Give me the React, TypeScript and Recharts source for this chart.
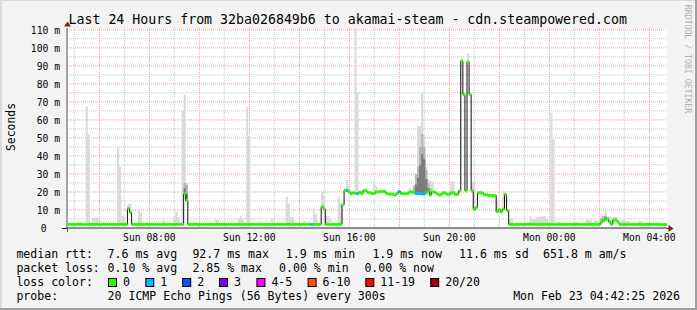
import React from 'react';
import { ComposedChart, Area, Line, Scatter, XAxis, YAxis, CartesianGrid } from 'recharts';

const MONO = '"DejaVu Sans Mono", "Liberation Mono", monospace';

// ---------- axis ticks (minutes since window start, Sun 04:42:25) ----------
const xTickMinutes = [197.58, 437.58, 677.58, 917.58, 1157.58, 1397.58];
const xTickLabels = ['Sun 08:00', 'Sun 12:00', 'Sun 16:00', 'Sun 20:00', 'Mon 00:00', 'Mon 04:00'];
const yTickValues = [0, 10, 20, 30, 40, 50, 60, 70, 80, 90, 100, 110];
const yTickLabels = ['0', '10 m', '20 m', '30 m', '40 m', '50 m', '60 m', '70 m', '80 m', '90 m', '100 m', '110 m'];

// ---------- 5-minute samples (ms), one row per hour ----------
const median = [
  2.0, 2.0, 2.0, 2.0, 2.0, 2.0, 2.0, 2.0, 2.0, 2.0, 2.0, 2.0,
  2.0, 2.0, 2.0, 2.0, 2.0, 2.0, 2.0, 2.0, 2.0, 2.0, 2.0, 2.0,
  2.0, 2.0, 2.0, 2.0, 2.0, 10.9, 8.7, 2.0, 2.0, 2.0, 2.0, 2.0,
  2.0, 2.0, 2.0, 2.0, 2.0, 2.0, 2.0, 2.0, 2.0, 2.0, 2.0, 2.0,
  2.0, 2.0, 2.0, 2.0, 2.0, 2.0, 2.0, 2.0, 19.0, 15.3, 2.0, 2.0,
  2.0, 2.0, 2.0, 2.0, 2.0, 2.0, 2.0, 2.0, 2.0, 2.0, 2.0, 2.0,
  2.0, 2.0, 2.0, 2.0, 2.0, 2.0, 2.0, 2.0, 2.0, 2.0, 2.0, 2.0,
  2.0, 2.0, 2.0, 2.0, 2.0, 2.0, 2.0, 2.0, 2.0, 2.0, 2.0, 2.0,
  2.0, 2.0, 2.0, 2.0, 2.0, 2.0, 2.0, 2.0, 2.0, 2.0, 2.0, 2.0,
  2.0, 2.0, 2.0, 2.0, 2.0, 2.0, 2.0, 2.0, 2.0, 2.0, 2.0, 2.0,
  2.0, 2.0, 11.8, 10.5, 2.0, 2.0, 2.0, 2.0, 2.0, 2.0, 2.0, 2.0,
  12.9, 20.9, 20.8, 20.0, 19.0, 19.6, 19.3, 19.0, 19.7, 19.0, 20.6, 20.9,
  19.6, 19.6, 19.2, 19.2, 20.0, 20.0, 20.3, 20.3, 20.3, 19.2, 18.8, 18.8,
  18.8, 18.2, 19.2, 20.3, 19.2, 19.1, 19.1, 19.1, 20.0, 20.0, 19.5, 19.2,
  19.2, 19.2, 18.9, 18.9, 19.5, 20.3, 18.3, 20.0, 20.0, 19.2, 18.4, 18.4,
  19.5, 19.5, 18.7, 18.7, 19.5, 19.5, 18.7, 18.7, 20.6, 92.7, 74.0, 20.6,
  92.2, 74.0, 20.6, 10.3, 11.3, 19.5, 19.5, 19.4, 18.4, 18.4, 18.0, 18.0,
  18.0, 18.0, 9.0, 10.1, 9.0, 10.4, 18.5, 9.6, 2.0, 2.0, 2.0, 2.0,
  2.0, 2.0, 2.0, 2.0, 2.0, 2.0, 2.0, 2.0, 2.0, 2.0, 2.0, 2.0,
  2.0, 2.0, 2.0, 2.0, 2.0, 2.0, 2.0, 2.0, 2.0, 2.0, 2.0, 2.0,
  2.0, 2.0, 2.0, 2.0, 2.0, 2.0, 2.0, 2.0, 2.0, 2.0, 2.0, 2.0,
  2.0, 2.0, 2.0, 2.0, 3.2, 4.0, 4.6, 5.0, 3.4, 2.0, 4.4, 4.4,
  3.4, 2.0, 2.0, 2.0, 2.0, 2.0, 2.0, 2.0, 2.0, 2.0, 2.0, 2.0,
  2.0, 2.0, 2.0, 2.0, 2.0, 2.0, 2.0, 2.0, 1.9, 1.9, 1.9, 1.9,
];

const smokeMax = [
  2.5, 2.5, 2.5, 2.5, 2.5, 3.5, 3.5, 2.8, 2.8, 67.4, 51.7, 3.0,
  5.5, 6.0, 6.0, 5.0, 2.5, 3.0, 2.5, 2.5, 2.5, 2.5, 2.5, 2.5,
  44.7, 34.0, 6.8, 6.8, 3.0, 13.5, 13.5, 2.5, 2.5, 2.5, 9.8, 8.3,
  2.5, 2.5, 3.5, 2.5, 2.5, 2.5, 2.5, 2.5, 2.5, 3.5, 4.5, 2.5,
  2.5, 2.5, 2.5, 6.5, 9.2, 6.0, 2.5, 65.0, 74.0, 25.0, 2.5, 2.5,
  3.0, 3.0, 3.0, 2.5, 2.5, 2.5, 2.5, 2.5, 2.5, 2.5, 2.5, 4.5,
  4.5, 2.5, 2.5, 2.5, 2.5, 2.5, 2.5, 2.5, 2.5, 2.5, 5.0, 6.8,
  5.0, 2.5, 67.0, 51.0, 2.5, 2.5, 2.5, 2.5, 3.0, 3.0, 2.5, 2.5,
  2.5, 2.5, 5.0, 2.5, 2.5, 2.5, 2.5, 2.5, 2.5, 17.4, 13.5, 6.0,
  6.0, 2.5, 2.5, 2.5, 2.5, 3.7, 3.7, 3.0, 3.7, 2.5, 10.8, 7.9,
  2.5, 2.5, 20.0, 17.8, 6.8, 6.8, 5.0, 2.5, 2.5, 2.5, 17.5, 13.5,
  12.9, 21.5, 26.8, 23.5, 19.5, 20.0, 111.0, 75.0, 21.0, 21.0, 21.5, 21.3,
  20.0, 20.0, 19.6, 24.6, 23.0, 20.3, 20.6, 20.6, 20.6, 19.6, 19.2, 19.2,
  19.2, 18.6, 19.6, 20.6, 19.6, 19.5, 19.5, 19.5, 22.0, 20.3, 24.0, 30.0,
  56.6, 56.6, 75.0, 52.0, 34.0, 27.0, 26.0, 26.0, 20.3, 19.6, 18.8, 18.8,
  19.9, 19.9, 19.1, 19.1, 26.0, 26.0, 19.1, 19.1, 21.0, 94.0, 75.0, 21.0,
  97.0, 75.0, 25.6, 25.6, 11.6, 20.5, 20.5, 19.8, 18.8, 18.8, 18.4, 18.4,
  18.4, 18.4, 16.3, 10.4, 9.3, 20.0, 20.0, 9.9, 5.2, 5.2, 2.5, 2.5,
  2.5, 2.5, 2.5, 2.5, 3.3, 3.3, 6.5, 4.7, 4.7, 6.3, 6.3, 6.3,
  6.5, 6.5, 5.0, 2.5, 63.8, 49.4, 2.5, 3.3, 3.3, 2.5, 2.5, 2.5,
  2.5, 2.5, 2.5, 3.3, 3.3, 2.5, 2.5, 2.5, 2.5, 4.7, 4.7, 4.4,
  2.5, 4.3, 4.3, 2.5, 6.5, 6.5, 9.2, 6.5, 6.5, 6.1, 6.1, 6.1,
  4.0, 2.5, 4.4, 4.4, 3.9, 3.9, 2.5, 2.5, 2.5, 2.5, 3.9, 3.9,
  2.5, 2.5, 3.3, 3.3, 2.5, 2.5, 2.5, 2.5, 2.5, 2.5, 2.5, 2.5,
];

// denser smoke (closer pings) where visible
const smokeMidIdx = [56, 57, 166, 167, 168, 169, 170, 171, 172, 173, 174, 256, 257, 258, 259];
const smokeMidTop = [25, 24, 23, 30, 34, 45, 52, 45, 32, 25, 22, 5.5, 6.5, 7.0, 5.5];
const smokeDarkIdx = [56, 57, 167, 168, 169, 170, 171, 172, 173, 257, 258];
const smokeDarkTop = [22, 19, 24, 28, 35, 41, 38, 27, 22, 5.0, 6.0];

// samples with 1 of 20 pings lost
const lossOneSamples = [117, 134, 139, 159, 167, 168, 169, 170, 171];

// ---------- texts ----------
const title = 'Last 24 Hours from 32ba026849b6 to akamai-steam - cdn.steampowered.com';
const rttStats = ['7.6 ms avg', '92.7 ms max', '1.9 ms min', '1.9 ms now', '11.6 ms sd', '651.8 m am/s'];
const lossStats = ['0.10 % avg', '2.85 % max', '0.00 % min', '0.00 % now'];
const lossLabels = ['0', '1', '2', '3', '4-5', '6-10', '11-19', '20/20'];
const lossColors = ['#26ff00', '#00b8ff', '#0059ff', '#7e00ff', '#ff00ff', '#ff5500', '#ff0000', '#a10000'];
const probeText = '20 ICMP Echo Pings (56 Bytes) every 300s';
const stampText = 'Mon Feb 23 04:42:25 2026';

// ---------- layout ----------
const W = 697;
const H = 310;
const rttX = [107.6, 192.4, 285.8, 372.4, 459.1, 543.1];
const lossX = [107.6, 192.4, 279.1, 364.4];
const swatchX = [108, 145.3, 182.2, 219, 256.4, 307.6, 365.3, 430.2];
const legendBase = [258, 272, 286, 300];

const SAMPLE_MIN = 5;

const rows = median.map((m, i) => {
  const mi = smokeMidIdx.indexOf(i);
  const di = smokeDarkIdx.indexOf(i);
  const midTop = mi >= 0 ? Math.max(m, smokeMidTop[mi]) : m;
  const darkTop = di >= 0 ? Math.max(m, smokeDarkTop[di]) : m;
  return {
    t: i * SAMPLE_MIN,
    median: m,
    smoke: [m, Math.max(m, smokeMax[i])],
    mid: [m, midTop],
    dark: [m, darkTop],
  };
});
const last = rows[rows.length - 1];
const chartData = [...rows, { ...last, t: rows.length * SAMPLE_MIN }];

const bandData = median.map((m, i) => ({
  t: i * SAMPLE_MIN + SAMPLE_MIN / 2,
  median: m,
  color: lossOneSamples.includes(i) ? lossColors[1] : lossColors[0],
}));

// grid
const hourMarks = Array.from({ length: 24 }, (_, k) => 17.58 + 60 * k);
const majorV = hourMarks.filter((_, k) => k % 2 === 1);
const minorV = hourMarks.filter((_, k) => k % 2 === 0);
const majorH = [10, 20, 30, 40, 50, 60, 70, 80, 90, 100, 110];
const minorH = [5, 15, 25, 35, 45, 55, 65, 75, 85, 95, 105];

const XTick = (props: any) => {
  const { x, y, index } = props;
  return (
    <text x={x} y={y + 12.7} textAnchor="middle" fontFamily={MONO} fontSize={9.7} fill="#000">
      {xTickLabels[index]}
    </text>
  );
};

const YTick = (props: any) => {
  const { x, y, index } = props;
  const label = yTickLabels[index];
  const shift = label.includes(' ') ? 0 : 13.3;
  return (
    <text x={x - 7 - shift} y={y + 3.8} textAnchor="end" fontFamily={MONO} fontSize={9.7} fill="#000">
      {label}
    </text>
  );
};

const BandShape = (props: any) => {
  const { cx, cy, payload } = props;
  if (cx == null || cy == null) return null;
  return <rect x={cx - 1.1} y={cy - 1.5} width={2.2} height={3} fill={payload.color} />;
};

const txt = { fontFamily: MONO, fontSize: 11.55, fill: '#000' } as const;

export default function App() {
  return (
    <div style={{ position: 'absolute', left: 0, top: 0, width: W, height: H }}>
      <svg width={W} height={H} style={{ position: 'absolute', left: 0, top: 0 }}>
        <rect x={0} y={0} width={W} height={H} fill="#f3f3f3" />
        <rect x={0} y={0} width={W} height={1} fill="#dadada" />
        <rect x={0} y={0} width={2} height={H} fill="#dadada" />
        <rect x={W - 2} y={0} width={2} height={H} fill="#9e9e9e" />
        <rect x={0} y={H - 2} width={W} height={2} fill="#9e9e9e" />

        <text x={68.5} y={24} fontFamily={MONO} fontSize={13.25} fill="#000">{title}</text>
        <text
          transform="translate(15,127) rotate(-90)"
          textAnchor="middle"
          fontFamily={MONO}
          fontSize={11.4}
          fill="#000"
        >
          Seconds
        </text>
        <text
          transform="translate(685,59) rotate(90)"
          textAnchor="middle"
          fontFamily={MONO}
          fontSize={8.2}
          fill="#b0b0b0"
        >
          RRDTOOL / TOBI OETIKER
        </text>

        <text x={16.4} y={legendBase[0]} {...txt}>median rtt:</text>
        {rttStats.map((s, i) => (
          <text key={'r' + i} x={rttX[i]} y={legendBase[0]} {...txt}>{s}</text>
        ))}
        <text x={16.4} y={legendBase[1]} {...txt}>packet loss:</text>
        {lossStats.map((s, i) => (
          <text key={'l' + i} x={lossX[i]} y={legendBase[1]} {...txt}>{s}</text>
        ))}
        <text x={16.4} y={legendBase[2]} {...txt}>loss color:</text>
        {lossLabels.map((s, i) => (
          <g key={'c' + i}>
            <rect x={swatchX[i] + 0.5} y={278.5} width={8} height={8} fill={lossColors[i]} stroke="#000" strokeWidth={1} />
            <text x={swatchX[i] + 15} y={legendBase[2]} {...txt}>{s}</text>
          </g>
        ))}
        <text x={16.4} y={legendBase[3]} {...txt}>probe:</text>
        <text x={107.6} y={legendBase[3]} {...txt}>{probeText}</text>
        <text x={680} y={legendBase[3]} textAnchor="end" {...txt}>{stampText}</text>
      </svg>

      <div style={{ position: 'absolute', left: 0, top: 0 }}>
        <ComposedChart
          width={W}
          height={H}
          data={chartData}
          margin={{ top: 28, right: 30, left: 7, bottom: 62 }}
        >
          <CartesianGrid
            fill="#ffffff"
            horizontalValues={minorH}
            verticalValues={minorV}
            stroke="#c6c6c6"
            strokeDasharray="1 1"
          />
          <CartesianGrid
            horizontalValues={majorH}
            verticalValues={majorV}
            stroke="#f29c9c"
            strokeDasharray="1 1"
          />
          <XAxis
            dataKey="t"
            type="number"
            domain={[0, 1440]}
            allowDataOverflow
            ticks={xTickMinutes}
            interval={0}
            tick={XTick}
            tickLine={false}
            tickSize={0}
            tickMargin={0}
            height={20}
            axisLine={{ stroke: '#222', strokeWidth: 1 }}
          />
          <YAxis
            type="number"
            domain={[0, 111]}
            allowDataOverflow
            ticks={yTickValues}
            interval={0}
            tick={YTick}
            tickLine={false}
            tickSize={0}
            tickMargin={0}
            width={60}
            axisLine={{ stroke: '#555', strokeWidth: 1 }}
          />
          <Area type="stepAfter" dataKey="smoke" stroke="none" fill="#dadada" fillOpacity={1} isAnimationActive={false} />
          <Area type="stepAfter" dataKey="mid" stroke="none" fill="#b4b4b4" fillOpacity={1} isAnimationActive={false} />
          <Area type="stepAfter" dataKey="dark" stroke="none" fill="#7c7c7c" fillOpacity={1} isAnimationActive={false} />
          <Line type="stepAfter" dataKey="median" stroke="#111" strokeWidth={1} dot={false} isAnimationActive={false} />
          <Scatter data={bandData} dataKey="median" shape={BandShape} isAnimationActive={false} />
        </ComposedChart>
      </div>

      <svg width={W} height={H} style={{ position: 'absolute', left: 0, top: 0, pointerEvents: 'none' }}>
        <line x1={62} y1={228.5} x2={67} y2={228.5} stroke="#222" strokeWidth={1} />
        <line x1={667} y1={228.5} x2={669} y2={228.5} stroke="#222" strokeWidth={1} />
        <line x1={67.5} y1={228} x2={67.5} y2={232} stroke="#555" strokeWidth={1} />
        <polygon points="64,26.5 71,26.5 67.5,21.5" fill="#8b1a1a" />
        <polygon points="668.5,225 668.5,232 673.5,228.5" fill="#8b1a1a" />
      </svg>
    </div>
  );
}
